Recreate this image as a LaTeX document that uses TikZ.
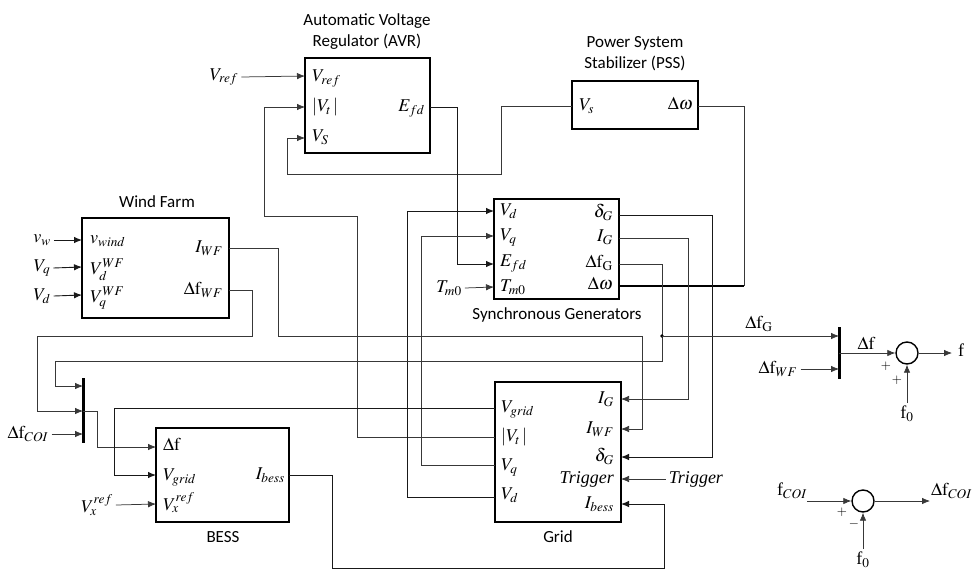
\documentclass[tikz,border=0pt]{standalone}
\usepackage{mathptmx}
\usepackage{fontspec}
\setmainfont{Liberation Serif}
\newfontfamily\carlito{Carlito}
\usetikzlibrary{arrows.meta}
\begin{document}
\begin{tikzpicture}[x=1pt,y=-1pt,
  every node/.style={font=\fontsize{18}{21}\selectfont, inner sep=0pt},
  blk/.style={draw, line width=1.4pt, inner sep=0pt},
  ttl/.style={font=\fontsize{17}{21}\selectfont\carlito, align=center},
  wire/.style={draw=black!78, line width=0.75pt},
  wireb/.style={draw=black!90, line width=0.9pt},
  tip/.style={-{Latex[length=8pt,width=6.5pt]}},
  lp/.style={anchor=west, text height=11pt, text depth=4pt},
  rp/.style={anchor=east, text height=11pt, text depth=4pt},
  ext/.style={inner sep=3pt},
  barline/.style={line width=3pt},
  sumc/.style={draw, circle, line width=1.4pt, minimum size=22pt},
  sgn/.style={font=\fontsize{13}{15}\selectfont},
]
\useasboundingbox (0,0) rectangle (973,570);

% ---------- blocks ----------
\node[blk, minimum width=125pt, minimum height=95pt]  (avr)  at (367.5,105.5) {};
\node[blk, minimum width=126pt, minimum height=48pt]  (pss)  at (635,105) {};
\node[blk, minimum width=147pt, minimum height=100pt] (wf)   at (155.5,268) {};
\node[blk, minimum width=125pt, minimum height=100pt] (sg)   at (556.5,249) {};
\node[blk, minimum width=126pt, minimum height=140pt] (grid) at (558,452) {};
\node[blk, minimum width=133pt, minimum height=94pt]  (bess) at (222.5,475) {};
\node[sumc] (s1) at (907,353) {};
\node[sumc] (s2) at (863,501) {};

% ---------- titles ----------
\node[ttl] (tavr)  at (367,32)  {Automatic Voltage\\Regulator (AVR)};
\node[ttl] (tpss)  at (635,54)  {Power System\\Stabilizer (PSS)};
\node[ttl] (twf)   at (157,202) {Wind Farm};
\node[ttl] (tsg)   at (557,315) {Synchronous Generators};
\node[ttl] (tgrid) at (558,537) {Grid};
\node[ttl] (tbess) at (223,537) {BESS};

% ---------- port labels ----------
\node[lp] (lavr1) at (312,78)  {$V_{ref}$};
\node[lp] (lavr2) at (312,108) {$|V_t\,|$};
\node[lp] (lavr3) at (312,138) {$V_S$};
\node[rp] (ravr1) at (425,108) {$E_{fd}$};

\node[lp] (lpss1) at (579,107) {$V_s$};
\node[rp] (rpss1) at (693,106) {$\Delta\omega$};

\node[lp] (lwf1) at (90,240) {$v_{wind}$};
\node[lp] (lwf2) at (90,271) {$V_d^{WF}$};
\node[lp] (lwf3) at (90,299) {$V_q^{WF}$};
\node[rp] (rwf1) at (223,249) {$I_{WF}$};
\node[rp] (rwf2) at (223,291) {$\Delta\mathrm{f}_{WF}$};

\node[lp] (lsg1) at (500,212) {$V_d$};
\node[lp] (lsg2) at (500,237) {$V_q$};
\node[lp] (lsg3) at (500,263) {$E_{fd}$};
\node[lp] (lsg4) at (500,288) {$T_{m0}$};
\node[rp] (rsg1) at (613,214) {$\delta_G$};
\node[rp] (rsg2) at (613,238) {$I_G$};
\node[rp] (rsg3) at (613,264) {$\Delta\mathrm{f}_\mathrm{G}$};
\node[rp] (rsg4) at (613,286) {$\Delta\omega$};

\node[lp] (lgr1) at (501,409) {$V_{grid}$};
\node[lp] (lgr2) at (501,438) {$|V_t\,|$};
\node[lp] (lgr3) at (501,467) {$V_q$};
\node[lp] (lgr4) at (501,496) {$V_d$};
\node[rp] (rgr1) at (614,400) {$I_G$};
\node[rp] (rgr2) at (614,430) {$I_{WF}$};
\node[rp] (rgr3) at (614,458) {$\delta_G$};
\node[rp] (rgr4) at (614,480) {\textit{Trigger}};
\node[rp] (rgr5) at (614,505) {$I_{bess}$};

\node[lp] (lbe1) at (163,447) {$\Delta\mathrm{f}$};
\node[lp] (lbe2) at (163,477) {$V_{grid}$};
\node[lp] (lbe3) at (163,507) {$V_x^{ref}$};
\node[rp] (rbe1) at (285,476) {$I_{bess}$};

% ---------- external labels ----------
\node[ext] (vrefin) at (224,77)  {$V_{ref}$};
\node[ext] (tm0in)  at (449,288) {$T_{m0}$};
\node[ext] (vwin)   at (42,240)  {$v_w$};
\node[ext] (vqin)   at (42,268)  {$V_q$};
\node[ext] (vdin)   at (42,296)  {$V_d$};
\node[ext] (dfcoi)  at (28,434)  {$\Delta\mathrm{f}_{COI}$};
\node[ext] (vxin)   at (97,505)  {$V_x^{ref}$};
\node[ext] (trigin) at (696,479) {\textit{Trigger}};
\node[ext] (dfwfin) at (778,369) {$\Delta\mathrm{f}_{WF}$};
\node (dfglab) at (759,324) {$\Delta\mathrm{f}_\mathrm{G}$};
\node (dflab)  at (866,343) {$\Delta\mathrm{f}$};
\node[anchor=west] (fout) at (958,350) {f};
\node[ext] (f0a) at (907,414) {f$_0$};
\node[ext] (fcoi) at (792,491) {f$_{COI}$};
\node[anchor=west] (dfcoiout) at (931,491) {$\Delta\mathrm{f}_{COI}$};
\node[ext] (f0b) at (863,560) {f$_0$};
\node[sgn] (p1) at (886,366) {$+$};
\node[sgn] (p2) at (897,380) {$+$};
\node[sgn] (p3) at (842,512) {$+$};
\node[sgn] (m3) at (854,524) {$-$};

% ---------- port coordinates ----------
\coordinate (avr-vref) at (305,76);
\coordinate (avr-vt)   at (305,107);
\coordinate (avr-vs)   at (305,138);
\coordinate (avr-efd)  at (430,107);
\coordinate (pss-vs)   at (572,106);
\coordinate (pss-dw)   at (698,106);
\coordinate (wf-vw)    at (82,240);
\coordinate (wf-vd)    at (82,267);
\coordinate (wf-vq)    at (82,295);
\coordinate (wf-iwf)   at (229,248);
\coordinate (wf-dfwf)  at (229,290);
\coordinate (sg-vd)    at (494,211);
\coordinate (sg-vq)    at (494,236);
\coordinate (sg-efd)   at (494,264);
\coordinate (sg-tm0)   at (494,287);
\coordinate (sg-dg)    at (619,215);
\coordinate (sg-ig)    at (619,238);
\coordinate (sg-dfg)   at (619,264);
\coordinate (sg-dw)    at (619,286);
\coordinate (gr-vgrid) at (495,408);
\coordinate (gr-vt)    at (495,437);
\coordinate (gr-vq)    at (495,465);
\coordinate (gr-vd)    at (495,497);
\coordinate (gr-ig)    at (621,399);
\coordinate (gr-iwf)   at (621,429);
\coordinate (gr-dg)    at (621,457);
\coordinate (gr-trig)  at (621,479);
\coordinate (gr-ibess) at (621,504);
\coordinate (be-df)    at (156,447);
\coordinate (be-vgrid) at (156,475);
\coordinate (be-vx)    at (156,504);
\coordinate (be-ibess) at (289,475);
\coordinate (m1top) at (83,378);
\coordinate (m1bot) at (83,443);
\coordinate (m1in1) at (83,386);
\coordinate (m1in2) at (83,411);
\coordinate (m1in3) at (83,434);
\coordinate (m2top) at (839,327);
\coordinate (m2bot) at (839,379);
\coordinate (m2in1) at (839,336);
\coordinate (m2in2) at (839,369);
\coordinate (m2out) at (839,353);
\coordinate (jdf)   at (662,336);
\coordinate (fend)  at (952,353);
\coordinate (fcoist) at (807,501);
\coordinate (dfcoiend) at (930,501);

% ---------- mux bars ----------
\draw[barline] (m1top) -- (m1bot);
\draw[barline] (m2top) -- (m2bot);

% ---------- connectors ----------
\draw[wire,tip] (vrefin.east) -- (avr-vref);
\draw[wire,tip] (gr-vt) -- (357,437) -- (357,216) -- (264,216) -- (264,107) -- (avr-vt);
\draw[wire,tip] (pss-vs) -- (501,106) -- (501,174) -- (287,174) -- (287,138) -- (avr-vs);
\draw[wireb,tip] (avr-efd) -- (457,107) -- (457,264) -- (sg-efd);
\draw[wire] (pss-dw) -- (744,106) -- (744,286);
\draw[black, line width=1.3pt] (sg-dw) -- (744,286);
\draw[wireb,tip] (gr-vd) -- (407,497) -- (407,211) -- (sg-vd);
\draw[wire,tip] (gr-vq) -- (421,465) -- (421,236) -- (sg-vq);
\draw[wire,tip] (tm0in.east) -- (sg-tm0);
\draw[wireb,tip] (sg-dg) -- (712,215) -- (712,457) -- (gr-dg);
\draw[wire,tip] (sg-ig) -- (688,238) -- (688,399) -- (gr-ig);
\draw[wire,tip] (sg-dfg) -- (662,264) -- (662,361) -- (55,361) -- (55,386) -- (m1in1);
\fill (jdf) circle (1.8pt);
\draw[wire,tip] (jdf) -- (m2in1);
\draw[wire,tip] (wf-iwf) -- (278,248) -- (278,336) -- (642,336) -- (642,429) -- (gr-iwf);
\draw[wire,tip] (wf-dfwf) -- (252,290) -- (252,336) -- (37,336) -- (37,411) -- (m1in2);
\draw[wire,tip] (dfcoi.east) -- (m1in3);
\draw[wire,tip] (m1in2) -- (97,411) -- (97,447) -- (be-df);
\draw[wireb,tip] (gr-vgrid) -- (114,408) -- (114,475) -- (be-vgrid);
\draw[wire,tip] (vxin.east) -- (be-vx);
\draw[wireb,tip] (be-ibess) -- (332,475) -- (332,568) -- (664,568) -- (664,504) -- (gr-ibess);
\draw[wire,tip] (trigin.west) -- (gr-trig);
\draw[wireb,tip] (vwin.east) -- (wf-vw);
\draw[wireb,tip] (vqin.east) -- (wf-vd);
\draw[wireb,tip] (vdin.east) -- (wf-vq);
\draw[wire,tip] (dfwfin.east) -- (m2in2);
\draw[wire,tip] (m2out) -- (s1.west);
\draw[wire,tip] (s1.east) -- (fend);
\draw[wire,tip] (f0a.north) -- (s1.south);
\draw[wire,tip] (fcoist) -- (s2.west);
\draw[wire,tip] (s2.east) -- (dfcoiend);
\draw[wire,tip] (f0b.north) -- (s2.south);
\end{tikzpicture}
\end{document}
